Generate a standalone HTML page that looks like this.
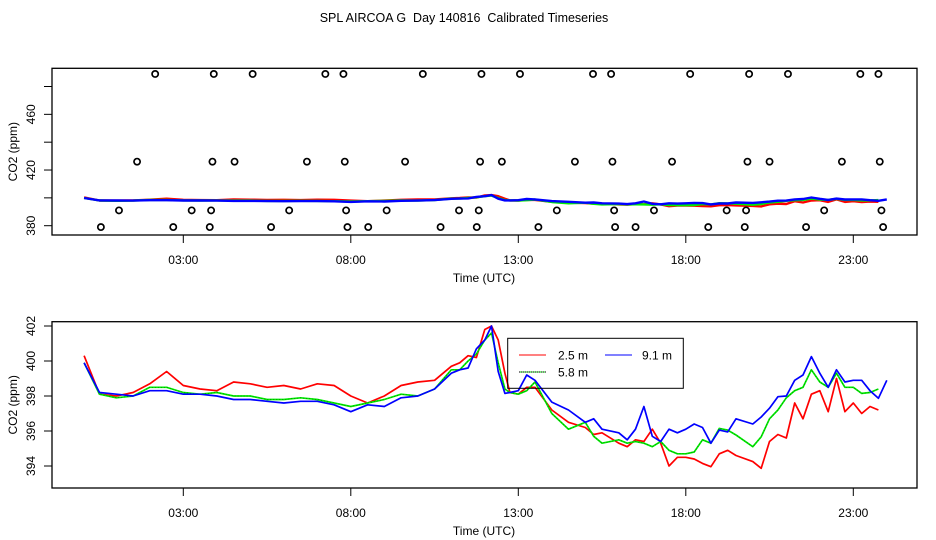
<!DOCTYPE html>
<html><head><meta charset="utf-8"><style>
html,body{margin:0;padding:0;background:#fff;}
svg{display:block;font-family:"Liberation Sans",sans-serif;}
</style></head><body>
<svg id="c" width="936" height="540" viewBox="0 0 936 540" xmlns="http://www.w3.org/2000/svg">
<rect width="936" height="540" fill="#fff"/>
<text x="464" y="22" font-size="12.5" text-anchor="middle" xml:space="preserve">SPL AIRCOA G  Day 140816  Calibrated Timeseries</text>
<g id="topPanel"></g>
<g id="botPanel"></g>
</svg>
<script>
const hours=[0.04,0.5,1,1.5,2,2.5,3,3.5,4,4.5,5,5.5,6,6.5,7,7.5,8,8.5,9,9.5,10,10.5,11,11.25,11.5,11.75,12,12.2,12.4,12.6,12.75,13,13.25,13.5,14,14.5,15,15.25,15.5,16,16.25,16.5,16.75,17,17.25,17.5,17.75,18,18.25,18.5,18.75,19,19.25,19.5,20,20.25,20.5,20.75,21,21.25,21.5,21.75,22,22.25,22.5,22.75,23,23.25,23.5,23.75,24];
const red25=[400.3,398.1,398.0,398.2,398.7,399.4,398.6,398.4,398.3,398.8,398.7,398.5,398.6,398.4,398.7,398.6,398.0,397.6,398.0,398.6,398.8,398.9,399.7,399.9,400.3,400.2,401.8,402.0,401.2,399.3,398.2,398.1,398.5,398.5,397.2,396.5,396.2,395.8,395.9,395.3,395.1,395.5,395.4,396.1,395.3,394.0,394.5,394.5,394.4,394.15,393.96,394.7,394.9,394.6,394.25,393.87,395.4,395.8,395.6,397.6,396.7,398.1,398.3,397.1,399.0,397.1,397.6,397.0,397.4,397.2,null];
const green58=[399.9,398.1,397.9,398.0,398.5,398.5,398.2,398.1,398.2,398.0,398.0,397.8,397.8,397.9,397.8,397.6,397.4,397.6,397.8,398.1,398.0,398.4,399.5,399.5,400.0,400.4,401.2,401.6,399.9,398.4,398.2,398.1,398.3,398.8,397.0,396.1,396.5,395.7,395.3,395.5,395.3,395.4,395.3,395.1,395.4,394.9,394.7,394.7,394.8,395.5,395.3,396.15,396.05,395.77,395.1,395.67,396.7,397.2,397.9,398.3,398.5,399.5,398.8,398.5,399.3,398.5,398.5,398.15,398.2,398.4,null];
const blue91=[399.9,398.2,398.1,398.0,398.3,398.3,398.1,398.1,398.0,397.8,397.8,397.7,397.6,397.7,397.7,397.5,397.1,397.5,397.4,397.9,398.0,398.4,399.3,399.5,399.6,400.7,401.2,402.0,399.4,398.15,398.2,398.3,399.2,398.9,397.65,397.2,396.5,396.7,396.1,395.9,395.5,396.1,397.4,395.7,395.4,396.1,395.9,396.1,396.4,396.2,395.3,396.05,395.95,396.7,396.4,396.8,397.3,397.96,398.0,398.9,399.2,400.25,399.3,398.5,399.5,398.8,398.9,398.9,398.3,397.87,398.9];
const ptsTop=[2.16,3.91,5.07,7.24,7.78,10.15,11.90,13.05,15.23,15.77,18.13,19.89,21.05,23.21,23.75];
const pts426=[1.62,3.87,4.53,6.69,7.82,9.62,11.86,12.51,14.69,15.81,17.59,19.84,20.50,22.66,23.79];
const pts390=[1.08,3.25,3.83,6.16,7.86,9.07,11.23,11.82,14.15,15.86,17.05,19.22,19.80,22.13,23.84];
const pts379=[0.54,2.70,3.79,5.62,7.90,8.52,10.68,11.76,13.60,15.89,16.50,18.67,19.76,21.59,23.89];
const outlierValues=[489,426,391,379];
const xTickHours=[3,8,13,18,23];
const xTickLabels=["03:00","08:00","13:00","18:00","23:00"];
const topTicks=[380,400,420,440,460,480];
const topTickLabels=["380","","420","","460",""];
const botTicks=[394,396,398,400,402];
const botTickLabels=["394","396","398","400","402"];

const NS="http://www.w3.org/2000/svg";
function el(parent,tag,attrs){const e=document.createElementNS(NS,tag);for(const k in attrs)e.setAttribute(k,attrs[k]);parent.appendChild(e);return e;}
const X=h=>82.8+33.5*h;
const L=52,R=917;
const yTop=v=>225.7-(v-380)*1.392;
const yBot=v=>361-(v-400)*17.5;

function panel(g,T,B,Y,ticks,labels,isTop){
  const box=el(g,'rect',{x:L,y:T,width:R-L,height:B-T,fill:'none',stroke:'#000','stroke-width':1.3});
  
  
  xTickHours.forEach((h,i)=>{
    const t=el(g,'line',{x1:X(h),x2:X(h),y1:B,y2:B+8,stroke:'#000','stroke-width':1});
    
    
    const tx=el(g,'text',{x:X(h),y:B+29,'font-size':12,'text-anchor':'middle'});
    tx.textContent=xTickLabels[i];
    
    
  });
  const xt=el(g,'text',{x:484,y:B+47,'font-size':12,'text-anchor':'middle'});
  xt.textContent='Time (UTC)';
  
  
  ticks.forEach((v,i)=>{
    const t=el(g,'line',{x1:L,x2:L-8,y1:Y(v),y2:Y(v),stroke:'#000','stroke-width':1});
    
    
    if(labels[i]){
      const tx=el(g,'text',{x:32,y:Y(v),'font-size':12,'text-anchor':'middle',transform:`rotate(-90 32 ${Y(v)})`,'dominant-baseline':'middle'});
      tx.textContent=labels[i];
      
      
    }
  });
  const yc=(T+B)/2;
  const yt=el(g,'text',{x:14,y:yc,'font-size':12,'text-anchor':'middle',transform:`rotate(-90 14 ${yc})`,'dominant-baseline':'middle'});
  yt.textContent='CO2 (ppm)';
  
  
  const series=[[red25,'#f00','series-2.5m'],[green58,'#00ee00','series-5.8m'],[blue91,'#00f','series-9.1m']];
  series.forEach(([vals,col,name])=>{
    let d='';vals.forEach((v,i)=>{if(v==null)return;d+=(d?'L':'M')+X(hours[i]).toFixed(1)+','+Y(v).toFixed(1);});
    const p=el(g,'path',{d:d,fill:'none',stroke:col,'stroke-width':isTop?2.4:1.7,'stroke-linejoin':'round'});
    
    
    if(name==='series-5.8m'&&!isTop){
      const p2=el(g,'path',{d:d,fill:'none',stroke:'#000','stroke-width':0.7,'stroke-dasharray':'1 2',opacity:0.5});
      
      
    }
  });
}

const topG=document.getElementById('topPanel');
panel(topG,68.3,235,yTop,topTicks,topTickLabels,true);
[ptsTop,pts426,pts390,pts379].forEach((arr,k)=>{
  arr.forEach(h=>{
    const c=el(topG,'circle',{cx:X(h),cy:yTop(outlierValues[k]),r:3.1,fill:'none',stroke:'#000','stroke-width':1.7});
    
    
  });
});
const botG=document.getElementById('botPanel');
panel(botG,321.7,488,yBot,botTicks,botTickLabels,false);

const lg=el(botG,'g',{});


const lr=el(lg,'rect',{x:507.7,y:338.3,width:175.6,height:50,fill:'none',stroke:'#000','stroke-width':1});


const entries=[[519,546,355,'#f00','2.5 m',558],[519,546,372,'#00ee00','5.8 m',558],[605,632,355,'#00f','9.1 m',642]];
entries.forEach(([x1,x2,y,col,lab,tx])=>{
  const ln=el(lg,'line',{x1:x1,x2:x2,y1:y,y2:y,stroke:col,'stroke-width':1});
  
  
  if(lab==='5.8 m'){const d=el(lg,'line',{x1:x1,x2:x2,y1:y,y2:y,stroke:'#000','stroke-width':1,'stroke-dasharray':'1 1'});}
  const t=el(lg,'text',{x:tx,y:y+4.5,'font-size':12});
  t.textContent=lab;
  
  
});
</script>
</body></html>
